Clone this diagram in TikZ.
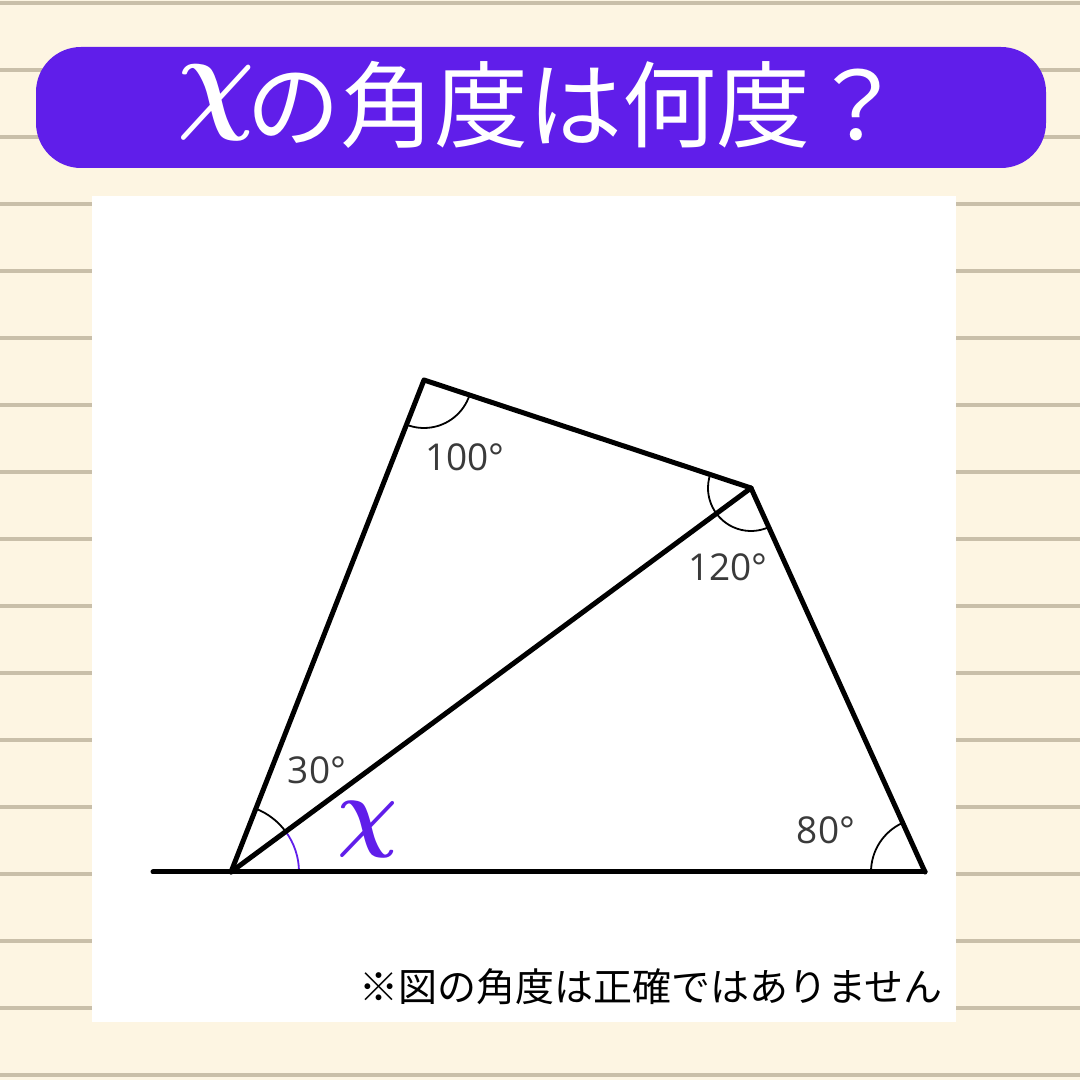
\documentclass[tikz,border=0pt]{standalone}
\usepackage{fontspec}
\setmainfont{Open Sans}
\newfontfamily\cjk{Noto Sans CJK JP}
\definecolor{bgcream}{HTML}{FDF5E2}
\definecolor{stripe}{HTML}{C9BFA9}
\definecolor{titlepurple}{HTML}{601EEA}
\definecolor{labelgray}{HTML}{3A3A3A}
\begin{document}
\begin{tikzpicture}[x=1pt,y=1pt,
  edge/.style={line width=5pt,line cap=round,line join=round},
  anglearc/.style={line width=1.8pt},
  deglabel/.style={text=labelgray,font=\fontsize{37}{37}\selectfont,inner sep=0pt}]
\useasboundingbox (0,0) rectangle (1080,1080);
\fill[bgcream] (0,0) rectangle (1080,1080);
\foreach \k in {0,...,16}{
  \fill[stripe] (0,{1077-67*\k-2}) rectangle (1080,{1077-67*\k+2});
}
\fill[white] (92,58) rectangle (956,884);
\fill[titlepurple,rounded corners=45pt] (36,912) rectangle (1046,1033);
\node[text=white,inner sep=0pt,anchor=center] (titlechi) at (216,977)
  {\scalebox{10.8}[11.8]{\boldmath$\chi$}};
\node[text=white,inner sep=0pt,anchor=west] (title) at (246,975)
  {\cjk\fontsize{94}{94}\selectfont の角度は何度？};
% geometry
\coordinate (L) at (153,208);
\coordinate (A) at (231,208);
\coordinate (B) at (424,700);
\coordinate (C) at (751,592);
\coordinate (D) at (925,208);
% angle arcs
\draw[anglearc] ([shift={(36.4:68pt)}]A) arc[start angle=36.4,end angle=68.6,radius=68pt];
\draw[anglearc,titlepurple] ([shift={(0:68pt)}]A) arc[start angle=0,end angle=36.4,radius=68pt];
\draw[anglearc] ([shift={(248.6:48pt)}]B) arc[start angle=248.6,end angle=341.7,radius=48pt];
\draw[anglearc] ([shift={(161.7:43pt)}]C) arc[start angle=161.7,end angle=294.4,radius=43pt];
\draw[anglearc] ([shift={(114.4:54pt)}]D) arc[start angle=114.4,end angle=180,radius=54pt];
% edges
\draw[edge] (L) -- (D);
\draw[edge] (A) -- (B) -- (C) -- (D);
\draw[edge] (A) -- (C);
% labels
\node[deglabel] (l100) at (465,623) {100°};
\node[deglabel] (l120) at (728,513) {120°};
\node[deglabel] (l30) at (317,310) {30°};
\node[deglabel] (l80) at (826,250) {80°};
\node[text=titlepurple,inner sep=0pt] (xlabel) at (368,250) {\scalebox{8.4}[8.8]{\boldmath$\chi$}};
\node[inner sep=0pt] (note) at (651,93) {\cjk\fontsize{39}{39}\selectfont ※図の角度は正確ではありません};
\end{tikzpicture}
\end{document}
